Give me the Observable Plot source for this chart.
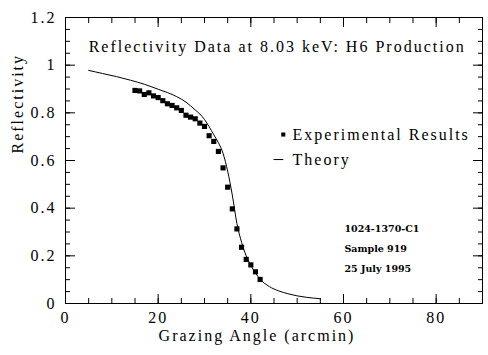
<!DOCTYPE html>
<html>
<head>
<meta charset="utf-8">
<script src="https://cdn.jsdelivr.net/npm/d3@7"></script>
<script src="https://cdn.jsdelivr.net/npm/@observablehq/plot@0.6"></script>
<style>
  html, body { margin: 0; padding: 0; background: #fff; }
  svg text { letter-spacing: 2px; }
  svg g.note text { letter-spacing: 0px; }
</style>
</head>
<body>
<div id="chart"></div>
<script>
// ---- Data ----
const theoryX = [5, 8, 11, 14, 17, 20, 22, 24, 26, 28, 29, 30, 31, 32, 33, 34, 35, 36, 37, 38, 39, 40, 41, 42, 44, 46, 48, 50, 52, 55];
const theoryY = [0.978, 0.965, 0.952, 0.937, 0.920, 0.899, 0.885, 0.868, 0.845, 0.812, 0.795, 0.772, 0.742, 0.708, 0.675, 0.630, 0.555, 0.455, 0.335, 0.257, 0.200, 0.160, 0.128, 0.102, 0.071, 0.053, 0.041, 0.032, 0.026, 0.020];

const expX = [15, 16, 17, 18, 19, 20, 21, 22, 23, 24, 25, 26, 27, 28, 29, 30, 31, 32, 33, 34, 35, 36, 37, 38, 39, 40, 41, 42];
const expY = [0.894, 0.892, 0.877, 0.884, 0.871, 0.864, 0.851, 0.838, 0.831, 0.821, 0.810, 0.790, 0.782, 0.775, 0.757, 0.743, 0.704, 0.680, 0.638, 0.569, 0.488, 0.397, 0.313, 0.236, 0.185, 0.162, 0.133, 0.101];

const xMajorTicks = [0, 20, 40, 60, 80];
const xMinorTicks = d3.range(0, 91, 5);
const yMajorTicks = [0, 0.2, 0.4, 0.6, 0.8, 1, 1.2];
const yMinorTicks = d3.range(0, 24.5).map(i => +(i * 0.05).toFixed(2));

const titleText = "Reflectivity Data at 8.03 keV: H6 Production";
const xLabel = "Grazing Angle (arcmin)";
const yLabel = "Reflectivity";
const legendLabels = ["Experimental Results", "Theory"];
const noteLines = ["1024-1370-C1", "Sample 919", "25 July 1995"];

// ---- Derived tables ----
const theory = theoryX.map((x, i) => ({x, y: theoryY[i]}));
const experiment = expX.map((x, i) => ({x, y: expY[i]}));

// annotation placement (data coords)
const titlePos = {x: 5, y: 1.075};
const legendPos = [{x: 47, y: 0.709}, {x: 47, y: 0.604}];
const notePos = [{x: 60.2, y: 0.311}, {x: 60.2, y: 0.227}, {x: 60.2, y: 0.147}];

const serif = "Liberation Serif";
const fs = 16;

const chart = Plot.plot({
  width: 488,
  height: 355,
  marginLeft: 65,
  marginRight: 6,
  marginTop: 17,
  marginBottom: 52,
  style: {fontFamily: serif, fontSize: fs + "px", color: "black", background: "white", overflow: "visible"},
  x: {domain: [0, 90]},
  y: {domain: [0, 1.2]},
  marks: [
    // tick labels
    Plot.axisX(xMajorTicks, {tickSize: 0, tickPadding: 8, label: null, fontSize: fs, fontFamily: serif, tickFormat: d => String(d)}),
    Plot.axisY(yMajorTicks, {tickSize: 0, tickPadding: 9, label: null, fontSize: fs, fontFamily: serif, tickFormat: d => String(d)}),
    // inward ticks, bottom/top
    Plot.axisX(xMinorTicks, {anchor: "bottom", tickSize: -5, text: null, label: null}),
    Plot.axisX(xMajorTicks, {anchor: "bottom", tickSize: -9, text: null, label: null}),
    Plot.axisX(xMinorTicks, {anchor: "top", tickSize: -5, text: null, label: null}),
    Plot.axisX(xMajorTicks, {anchor: "top", tickSize: -9, text: null, label: null}),
    // inward ticks, left/right
    Plot.axisY(yMinorTicks, {anchor: "left", tickSize: -5, text: null, label: null}),
    Plot.axisY(yMajorTicks, {anchor: "left", tickSize: -10, text: null, label: null}),
    Plot.axisY(yMinorTicks, {anchor: "right", tickSize: -5, text: null, label: null}),
    Plot.axisY(yMajorTicks, {anchor: "right", tickSize: -10, text: null, label: null}),
    Plot.frame({stroke: "black", strokeWidth: 1}),
    // axis titles
    Plot.text([xLabel], {text: d => d, frameAnchor: "bottom", dx: -17, dy: 37, fontSize: fs, fontFamily: serif, fill: "black"}),
    Plot.text([yLabel], {text: d => d, frameAnchor: "left", dx: -48, dy: -7, rotate: -90, fontSize: fs, fontFamily: serif, fill: "black"}),
    // data
    Plot.line(theory, {x: "x", y: "y", stroke: "black", strokeWidth: 1, curve: "monotone-x"}),
    Plot.dot(experiment, {x: "x", y: "y", symbol: "square", r: 2.9, fill: "black", stroke: "none"}),
    // title
    Plot.text([titleText], {x: titlePos.x, y: titlePos.y, text: d => d, textAnchor: "start", fontSize: fs, fontFamily: serif, fill: "black"}),
    // legend
    Plot.dot([legendPos[0]], {x: "x", y: "y", symbol: "square", r: 2.3, fill: "black", stroke: "none"}),
    Plot.link([legendPos[1]], {x1: d => d.x - 2.1, x2: "x", y1: "y", y2: "y", stroke: "black", strokeWidth: 1}),
    Plot.text(legendLabels, {x: (d, i) => legendPos[i].x + 2, y: (d, i) => legendPos[i].y, text: d => d, textAnchor: "start", fontSize: fs, fontFamily: serif, fill: "black"}),
    // notes
    Plot.text(noteLines, {x: (d, i) => notePos[i].x, y: (d, i) => notePos[i].y, text: d => d, textAnchor: "start", fontSize: 9.5, fontWeight: "bold", fontFamily: "DejaVu Serif", fill: "black", className: "note"})
  ]
});

document.getElementById("chart").appendChild(chart);
</script>
</body>
</html>
